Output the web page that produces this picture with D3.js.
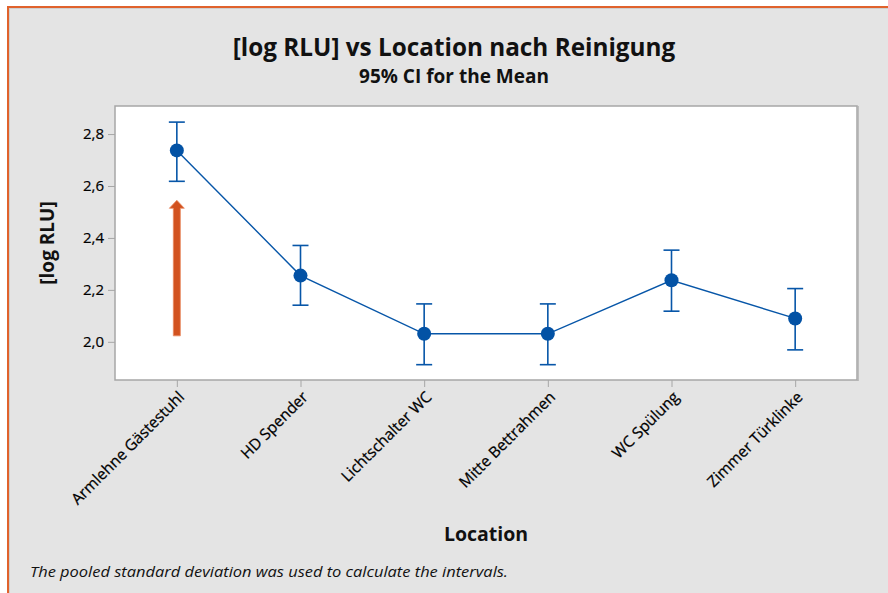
<!DOCTYPE html>
<html><head><meta charset="utf-8">
<script src="https://cdn.jsdelivr.net/npm/d3@7"></script>
<style>body{margin:0;background:#fff;}svg{display:block;font-family:"Open Sans","Noto Sans",sans-serif;}</style>
</head><body>
<svg id="c" width="888" height="593"></svg>
<script>
const categories = ["Armlehne Gästestuhl","HD Spender","Lichtschalter WC","Mitte Bettrahmen","WC Spülung","Zimmer Türklinke"];
const means = [2.737, 2.255, 2.031, 2.031, 2.237, 2.090];
const lower = [2.618, 2.141, 1.912, 1.912, 2.118, 1.969];
const upper = [2.846, 2.371, 2.146, 2.146, 2.353, 2.205];
const yTicks = [2.0, 2.2, 2.4, 2.6, 2.8];
const arrowFrom = 2.023, arrowTo = 2.545; // annotation arrow at first category

const svg = d3.select("#c");
const W = 888, H = 593;
const m = {left:115, top:106, right:857, bottom:380};
const FONT = '"Open Sans","Noto Sans",sans-serif';

// outer frame
svg.append("rect").attr("x",0).attr("y",0).attr("width",W).attr("height",H).attr("fill","#ffffff");
svg.append("rect").attr("x",8).attr("y",7).attr("width",W+20).attr("height",H+20)
  .attr("fill","#e4e4e4").attr("stroke","#e0622c").attr("stroke-width",2);
svg.append("rect").attr("x",9.5).attr("y",8.5).attr("width",W+20).attr("height",H+20)
  .attr("fill","none").attr("stroke","#cfcfcf").attr("stroke-width",1);

const x = d3.scalePoint().domain(categories).range([m.left, m.right]).padding(0.5);
const y = d3.scaleLinear().domain([1.853, 2.908]).range([m.bottom, m.top]);

// plot area
svg.append("rect").attr("x",m.left).attr("y",m.top).attr("width",m.right-m.left).attr("height",m.bottom-m.top)
  .attr("fill","#fff").attr("stroke","#a6a6a6").attr("stroke-width",1.5);
svg.append("line").attr("x1",m.right+1).attr("x2",m.right+1).attr("y1",m.top).attr("y2",m.bottom+1)
  .attr("stroke","#b0b0b0").attr("stroke-width",1.5);

// axes
const yAxis = d3.axisLeft(y).tickValues(yTicks).tickSize(7).tickPadding(4)
  .tickFormat(d => d3.format(".1f")(d).replace(".", ","));
const gy = svg.append("g").attr("transform",`translate(${m.left},0)`).call(yAxis)
  .attr("font-family",FONT).attr("font-size",15);
gy.select(".domain").remove();
gy.selectAll(".tick line").attr("stroke","#a6a6a6");
gy.selectAll(".tick text").attr("fill","#000").attr("stroke","#000").attr("stroke-width",0.2);

const xAxis = d3.axisBottom(x).tickSize(7).tickPadding(4);
const gx = svg.append("g").attr("transform",`translate(0,${m.bottom})`).call(xAxis)
  .attr("font-family",FONT).attr("font-size",15.5);
gx.select(".domain").remove();
gx.selectAll(".tick line").attr("stroke","#a6a6a6");
gx.selectAll(".tick text").attr("fill","#000").attr("stroke","#000").attr("stroke-width",0.25)
  .attr("text-anchor","end").attr("dy",null).attr("y",0)
  .attr("transform","translate(8,18) rotate(-45)");

// error bars
const blue = "#0756a8";
const eb = svg.append("g");
categories.forEach((c,i)=>{
  const cx = x(c);
  eb.append("line").attr("x1",cx).attr("x2",cx).attr("y1",y(lower[i])).attr("y2",y(upper[i]))
    .attr("stroke",blue).attr("stroke-width",1.6);
  [lower[i],upper[i]].forEach(v=>{
    eb.append("line").attr("x1",cx-8).attr("x2",cx+8).attr("y1",y(v)).attr("y2",y(v))
      .attr("stroke",blue).attr("stroke-width",1.6);
  });
});
// connecting line
svg.append("path").datum(categories.map((c,i)=>[x(c),y(means[i])]))
  .attr("d", d3.line()).attr("fill","none").attr("stroke",blue).attr("stroke-width",1.4);
svg.append("g").selectAll("circle").data(categories).join("circle")
  .attr("cx",d=>x(d)).attr("cy",(d,i)=>y(means[i])).attr("r",7).attr("fill","#0352a5");

// annotation arrow
const ax = x(categories[0]);
const yb = y(arrowFrom), yt = y(arrowTo);
svg.append("path")
  .attr("d",`M${ax-3.5},${yb} L${ax-3.5},${yt+8} L${ax-7.5},${yt+8} L${ax},${yt} L${ax+7.5},${yt+8} L${ax+3.5},${yt+8} L${ax+3.5},${yb} Z`)
  .attr("fill","#d2521f").attr("stroke","#e88a62").attr("stroke-width",0.8);

// titles
svg.append("text").attr("x",454).attr("y",56).attr("text-anchor","middle")
  .attr("font-size",24.3).attr("font-weight","bold").attr("fill","#111").text("[log RLU] vs Location nach Reinigung");
svg.append("text").attr("x",454).attr("y",83).attr("text-anchor","middle")
  .attr("font-size",19).attr("font-weight","bold").attr("fill","#111").text("95% CI for the Mean");
svg.append("text").attr("transform",`translate(54,243) rotate(-90)`).attr("text-anchor","middle")
  .attr("font-size",19).attr("font-weight","bold").attr("fill","#111").text("[log RLU]");
svg.append("text").attr("x",486).attr("y",541).attr("text-anchor","middle")
  .attr("font-size",19.5).attr("font-weight","bold").attr("fill","#111").text("Location");
svg.append("text").attr("x",30).attr("y",577)
  .attr("font-size",14.5).attr("font-style","italic").attr("fill","#111")
  .attr("textLength",478).attr("lengthAdjust","spacingAndGlyphs")
  .text("The pooled standard deviation was used to calculate the intervals.");
</script>
</body></html>
